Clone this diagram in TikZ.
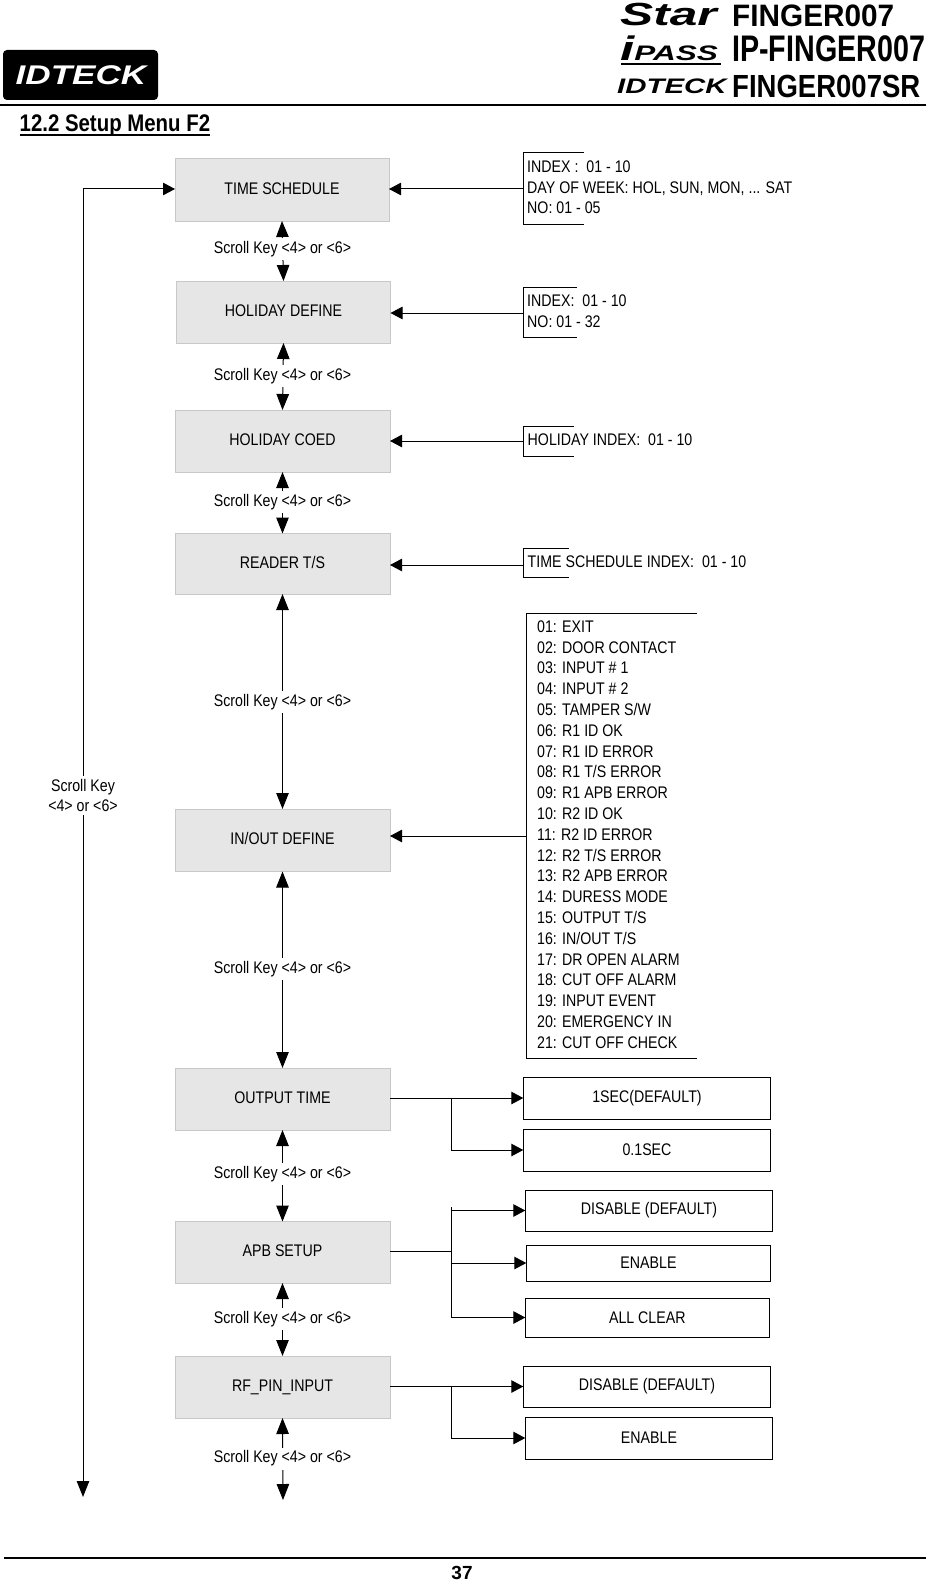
\documentclass[tikz,border=0pt]{standalone}
\usepackage{fontspec}
\setmainfont{Liberation Sans}
\newfontfamily\narrowf[FakeStretch=0.845]{Liberation Sans}
\newfontfamily\titlef[FakeStretch=0.85]{Liberation Sans}
\newfontfamily\logoaf[FakeStretch=0.96]{Liberation Sans}
\newfontfamily\logobf[FakeStretch=0.775]{Liberation Sans}
\newfontfamily\logocf[FakeStretch=0.86]{Liberation Sans}
\newfontfamily\starf[FakeStretch=1.55]{Liberation Sans}
\newfontfamily\passf[FakeStretch=1.5]{Liberation Sans}
\newfontfamily\smallidf[FakeStretch=1.4]{Liberation Sans}
\newfontfamily\bigidf[FakeStretch=1.3]{Liberation Sans}
\usetikzlibrary{arrows.meta}
\definecolor{boxfill}{HTML}{E6E6E6}
\definecolor{boxline}{HTML}{C8C8C8}
\tikzset{
  txt/.style={font=\narrowf\fontsize{16.8}{20}\selectfont,text=black},
  menu/.style={txt,draw=boxline,fill=boxfill,line width=0.9pt,inner sep=0pt,outer sep=0pt,text height=12pt,text depth=3pt},
  opt/.style={txt,draw=black,line width=1pt,fill=white,inner sep=0pt,outer sep=0pt},
  lbl/.style={txt,fill=white,inner sep=0pt,minimum height=22pt,minimum width=138pt},
  note/.style={txt,anchor=west,inner sep=0pt,align=left},
  conn/.style={draw=black,line width=1pt},
  hh/.style={conn,-{Triangle[length=12pt,width=12.5pt]}},
  vv/.style={conn,{Triangle[length=16pt,width=12.5pt]}-{Triangle[length=16pt,width=12.5pt]}},
  brk/.style={draw=black,line width=1pt},
  logot/.style={inner sep=0pt,anchor=west,text=black}
}
\newcommand{\mybox}[7]{%
  \pgfmathsetmacro\mycx{(#3+#5)/2}\pgfmathsetmacro\mycy{(#4+#6)/2}%
  \pgfmathsetmacro\myw{#5-#3}\pgfmathsetmacro\myh{#6-#4}%
  \node[#1,minimum width=\myw pt,minimum height=\myh pt] (#2) at (\mycx,\mycy) {#7};}
\begin{document}
\begin{tikzpicture}[x=1pt,y=-1pt]
\useasboundingbox (0,0) rectangle (926,1581);
% header
\node[fill=black,rounded corners=4pt,minimum width=155pt,minimum height=50pt,inner sep=0pt] (logo) at (80.5,75) {};
\node[inner sep=0pt,text=white] (logotext) at (81,75) {\bigidf\fontsize{27}{27}\selectfont\bfseries\itshape IDTECK};
\node[logot] (l1a) at (620,14) {\starf\fontsize{32}{32}\selectfont\bfseries\itshape Star};
\node[logot] (l1b) at (732,15.5) {\logoaf\fontsize{31}{32}\selectfont\bfseries FINGER007};
\node[logot,anchor=base west] (l2a) at (620,61) {\passf{\fontsize{34}{34}\selectfont\bfseries\itshape i}\fontsize{21}{22}\selectfont\bfseries\itshape PASS};
\draw[line width=1.2pt] (621,64) -- (721,64);
\node[logot] (l2b) at (732,49) {\logobf\fontsize{37}{38}\selectfont\bfseries IP-FINGER007};
\node[logot] (l3a) at (617,86.5) {\smallidf\fontsize{21}{22}\selectfont\bfseries\itshape IDTECK};
\node[logot] (l3b) at (732,86.5) {\logocf\fontsize{32}{33}\selectfont\bfseries FINGER007SR};
\draw[line width=2pt] (0,105) -- (926,105);
\node[logot] (title) at (19.5,126) {\titlef\fontsize{24}{26}\selectfont\bfseries 12.2 Setup Menu F2};
\draw[line width=1.5pt] (19.5,135) -- (210,135);
\draw[line width=2pt] (4,1558) -- (926,1558);
\node[inner sep=0pt] (pg) at (462,1572.5) {\fontsize{19}{19}\selectfont\bfseries 37};
% menu boxes
\mybox{menu}{m1}{175}{158}{389}{221}{TIME SCHEDULE}
\mybox{menu}{m2}{176.5}{281}{390.5}{343}{HOLIDAY DEFINE}
\mybox{menu}{m3}{175}{410}{390}{472}{HOLIDAY COED}
\mybox{menu}{m4}{175}{533.5}{390}{594}{READER T/S}
\mybox{menu}{m5}{175}{809}{390}{871.5}{IN/OUT DEFINE}
\mybox{menu}{m6}{175}{1068}{390}{1130}{OUTPUT TIME}
\mybox{menu}{m7}{175}{1221.5}{390}{1283}{APB SETUP}
\mybox{menu}{m8}{175}{1356}{390}{1418}{RF\_PIN\_INPUT}
% option boxes
\mybox{opt}{o1}{523.3}{1077}{770.7}{1119}{1SEC(DEFAULT)}
\mybox{opt}{o2}{523.3}{1129}{770.7}{1171}{0.1SEC}
\mybox{opt}{o3}{525.3}{1190}{772.7}{1231}{DISABLE (DEFAULT)}
\mybox{opt}{o4}{526.3}{1245}{770.7}{1281}{ENABLE}
\mybox{opt}{o5}{525.3}{1298}{769.3}{1337}{ALL CLEAR}
\mybox{opt}{o6}{523.3}{1366}{770.7}{1407}{DISABLE (DEFAULT)}
\mybox{opt}{o7}{525.3}{1417}{772.7}{1459}{ENABLE}
% vertical connectors
\coordinate (endm) at (283,1500);
\coordinate (loopend) at (83,1497);
\coordinate (looptop) at (83,189);
\draw[vv] (m1.south) -- (m2.north);
\draw[vv] (m2.south) -- (m3.north);
\draw[vv] (m3.south) -- (m4.north);
\draw[vv] (m4.south) -- (m5.north);
\draw[vv] (m5.south) -- (m6.north);
\draw[vv] (m6.south) -- (m7.north);
\draw[vv] (m7.south) -- (m8.north);
\draw[vv] (m8.south) -- (endm);
\draw[conn,{Triangle[length=16pt,width=12.5pt]}-{Triangle[length=12pt,width=12.5pt]}] (loopend) -- (looptop) -- (looptop -| m1.west);
% scroll labels
\foreach \yy/\nm in {249/s1,376/s2,502/s3,702/s4,969/s5,1174/s6,1319/s7,1458.5/s8}
  \node[lbl] (\nm) at (282.5,\yy) {Scroll Key <4> or <6>};
\node[txt,fill=white,inner sep=3pt,align=center] (sl) at (83,795.5) {Scroll Key\\<4> or <6>};
% bracket notes
\coordinate (n1) at (523.5,189);
\coordinate (n2) at (523.5,313);
\coordinate (n3) at (523.5,441);
\coordinate (n4) at (523.5,565);
\coordinate (n5) at (526,836);
\draw[brk] (584,153) -- (523.5,153) -- (523.5,224) -- (584,224);
\draw[brk] (577,287) -- (523.5,287) -- (523.5,337) -- (577,337);
\draw[brk] (574,426) -- (523.5,426) -- (523.5,456) -- (574,456);
\draw[brk] (569,548) -- (523.5,548) -- (523.5,577) -- (569,577);
\draw[brk] (697,613) -- (526,613) -- (526,1058) -- (697,1058);
\draw[hh] (n1) -- (n1 -| m1.east);
\draw[hh] (n2) -- (n2 -| m2.east);
\draw[hh] (n3) -- (n3 -| m3.east);
\draw[hh] (n4) -- (n4 -| m4.east);
\draw[hh] (n5) -- (n5 -| m5.east);
\node[note] (t1) at (527,187.5) {INDEX :\ \ 01 - 10\\[0.6pt]DAY OF WEEK: HOL, SUN, MON, ... SAT\\[0.6pt]NO: 01 - 05};
\node[note] (t2) at (527,311) {INDEX:\ \ 01 - 10\\[0.6pt]NO: 01 - 32};
\node[note] (t3) at (527.5,440) {HOLIDAY INDEX:\ \ 01 - 10};
\node[note] (t4) at (527.5,562) {TIME SCHEDULE INDEX:\ \ 01 - 10};
\node[note,font=\narrowf\fontsize{16.8}{20.8}\selectfont] (t5) at (537,834.5) {01: EXIT\\02: DOOR CONTACT\\03: INPUT \# 1\\04: INPUT \# 2\\05: TAMPER S/W\\06: R1 ID OK\\07: R1 ID ERROR\\08: R1 T/S ERROR\\09: R1 APB ERROR\\10: R2 ID OK\\11: R2 ID ERROR\\12: R2 T/S ERROR\\13: R2 APB ERROR\\14: DURESS MODE\\15: OUTPUT T/S\\16: IN/OUT T/S\\17: DR OPEN ALARM\\18: CUT OFF ALARM\\19: INPUT EVENT\\20: EMERGENCY IN\\21: CUT OFF CHECK};
% option connectors
\coordinate (jt) at (451,1207);
\coordinate (j7) at (451,1251);
\draw[hh] (m6.east |- o1.west) -- (o1.west);
\draw[hh] (jt |- o1.west) -- (jt |- o2.west) -- (o2.west);
\draw[conn] (m7.east |- j7) -- (j7);
\draw[conn] (jt) -- (jt |- o5.west);
\draw[hh] (jt |- o3.west) -- (o3.west);
\draw[hh] (jt |- o4.west) -- (o4.west);
\draw[hh] (jt |- o5.west) -- (o5.west);
\draw[hh] (m8.east |- o6.west) -- (o6.west);
\draw[hh] (jt |- o6.west) -- (jt |- o7.west) -- (o7.west);
\end{tikzpicture}
\end{document}
